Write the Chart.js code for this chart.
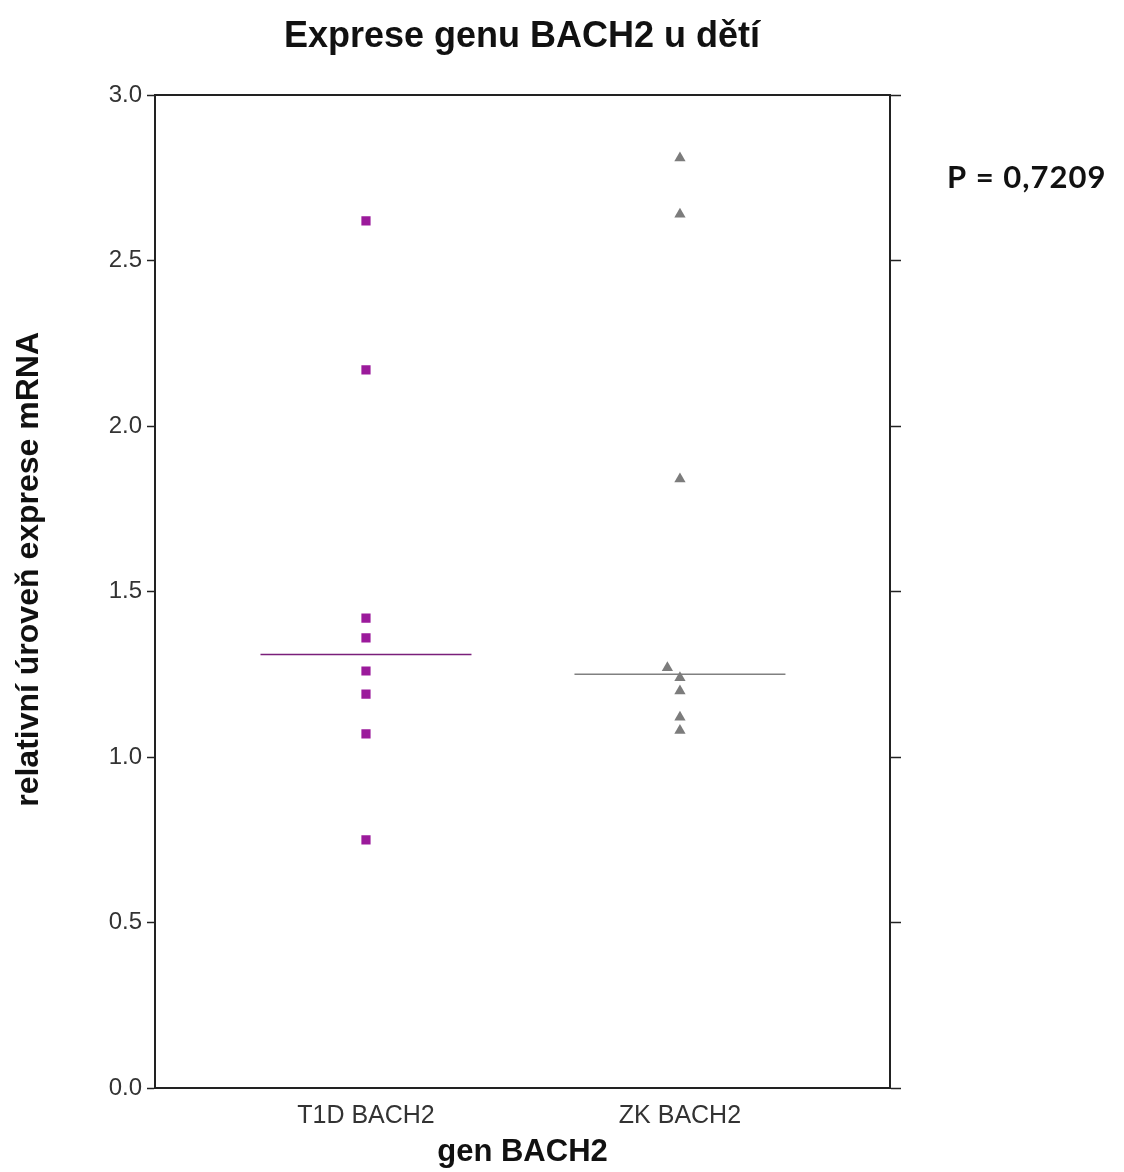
<!DOCTYPE html>
<html>
<head>
<meta charset="utf-8">
<script src="https://cdn.jsdelivr.net/npm/chart.js@4.4.1/dist/chart.umd.min.js"></script>
<style>
	html, body { margin: 0; padding: 0; background: #fff; }
	#wrap { width: 1124px; height: 1172px; position: relative; }
</style>
</head>
<body>
<div id="wrap"><canvas id="chart" width="1124" height="1172"></canvas></div>
<script>
const groups = ['T1D BACH2', 'ZK BACH2'];
const t1dValues = [2.62, 2.17, 1.42, 1.36, 1.26, 1.19, 1.07, 0.75];
const zkValues = [2.81, 2.64, 1.84, 1.27, 1.24, 1.2, 1.12, 1.08];
// small horizontal jitter of the ZK points, as in the original plot
const zkJitter = [0, 0, 0, -0.04, 0, 0, 0, 0];
const t1dMedian = 1.31;
const zkMedian = 1.25;
const yTicks = [0, 0.5, 1, 1.5, 2, 2.5, 3];
const pValueText = 'P = 0,7209';

const halfWidth = 0.336;

const pValuePlugin = {
	id: 'pValue',
	afterDraw(chart) {
		const ctx = chart.ctx;
		const y = chart.scales.y;
		ctx.save();
		ctx.font = 'bold 31px Lato, "Open Sans", sans-serif';
		ctx.fillStyle = '#111';
		ctx.textAlign = 'left';
		ctx.textBaseline = 'middle';
		ctx.letterSpacing = '1px';
		ctx.fillText(pValueText, 947, y.getPixelForValue(2.75));
		ctx.restore();
	},
};

new Chart(document.getElementById('chart').getContext('2d'), {
	type: 'scatter',
	data: {
		datasets: [
			{
				label: 'T1D',
				data: t1dValues.map((v) => ({ x: 0, y: v })),
				pointStyle: 'rect',
				pointRadius: 6.5,
				backgroundColor: '#9b1a9b',
				borderColor: '#9b1a9b',
				borderWidth: 0,
			},
			{
				label: 'ZK',
				data: zkValues.map((v, i) => ({ x: 1 + zkJitter[i], y: v })),
				pointStyle: 'triangle',
				pointRadius: 6.5,
				backgroundColor: '#7c7c7c',
				borderColor: '#7c7c7c',
				borderWidth: 0,
			},
			{
				label: 'T1D median',
				type: 'line',
				data: [
					{ x: -halfWidth, y: t1dMedian },
					{ x: halfWidth, y: t1dMedian },
				],
				borderColor: '#7a1f7a',
				borderWidth: 1.5,
				pointRadius: 0,
			},
			{
				label: 'ZK median',
				type: 'line',
				data: [
					{ x: 1 - halfWidth, y: zkMedian },
					{ x: 1 + halfWidth, y: zkMedian },
				],
				borderColor: '#808080',
				borderWidth: 1.5,
				pointRadius: 0,
			},
		],
	},
	options: {
		responsive: false,
		animation: false,
		layout: { padding: { left: 0, right: 80, top: 0, bottom: 0 } },
		scales: {
			x: {
				type: 'linear',
				min: -0.672,
				max: 1.669,
				afterBuildTicks: (scale) => {
					scale.ticks = [{ value: 0 }, { value: 1 }];
				},
				afterFit: (scale) => {
					scale.height = 84;
				},
				ticks: {
					callback: (v) => groups[v],
					color: '#333',
					font: { family: 'Liberation Sans', size: 25 },
					padding: 13,
					maxRotation: 0,
				},
				grid: { display: false, drawTicks: false },
				border: { display: true, color: '#222', width: 2 },
				title: {
					display: true,
					text: 'gen BACH2',
					color: '#111',
					font: { family: 'Liberation Sans', size: 31, weight: 'bold' },
					padding: { top: 0, bottom: 1 },
				},
			},
			y: {
				min: 0,
				max: 3,
				afterBuildTicks: (scale) => {
					scale.ticks = yTicks.map((v) => ({ value: v }));
				},
				afterFit: (scale) => {
					scale.width = 155;
				},
				ticks: {
					callback: (v) => v.toFixed(1),
					color: '#333',
					font: { family: 'Liberation Sans', size: 24 },
					padding: 5,
				},
				grid: {
					drawOnChartArea: false,
					tickLength: 8,
					color: '#222',
					tickWidth: 1.5,
				},
				border: { display: true, color: '#222', width: 2 },
				title: {
					display: true,
					text: '\u00a0\u00a0\u00a0\u00a0\u00a0relativní úroveň exprese mRNA',
					color: '#111',
					font: { family: 'Liberation Sans', size: 32, weight: 'bold' },
					padding: { top: 10, bottom: 0 },
				},
			},
			y2: {
				position: 'right',
				min: 0,
				max: 3,
				afterBuildTicks: (scale) => {
					scale.ticks = yTicks.map((v) => ({ value: v }));
				},
				afterFit: (scale) => {
					scale.width = 154;
				},
				ticks: { display: false },
				grid: {
					drawOnChartArea: false,
					tickLength: 11,
					color: '#222',
					tickWidth: 1.5,
				},
				border: { display: true, color: '#222', width: 2 },
			},
			x2: {
				position: 'top',
				type: 'linear',
				min: -0.672,
				max: 1.669,
				afterFit: (scale) => {
					scale.height = 0;
				},
				ticks: { display: false },
				grid: { display: false, drawTicks: false },
				border: { display: true, color: '#222', width: 2 },
			},
		},
		plugins: {
			legend: { display: false },
			tooltip: { enabled: false },
			title: {
				display: true,
				text: 'Exprese genu BACH2 u dětí',
				color: '#111',
				font: { family: 'Liberation Sans', size: 36, weight: 'bold' },
				padding: { top: 15, bottom: 37 },
			},
		},
	},
	plugins: [pValuePlugin],
});
</script>
</body>
</html>
